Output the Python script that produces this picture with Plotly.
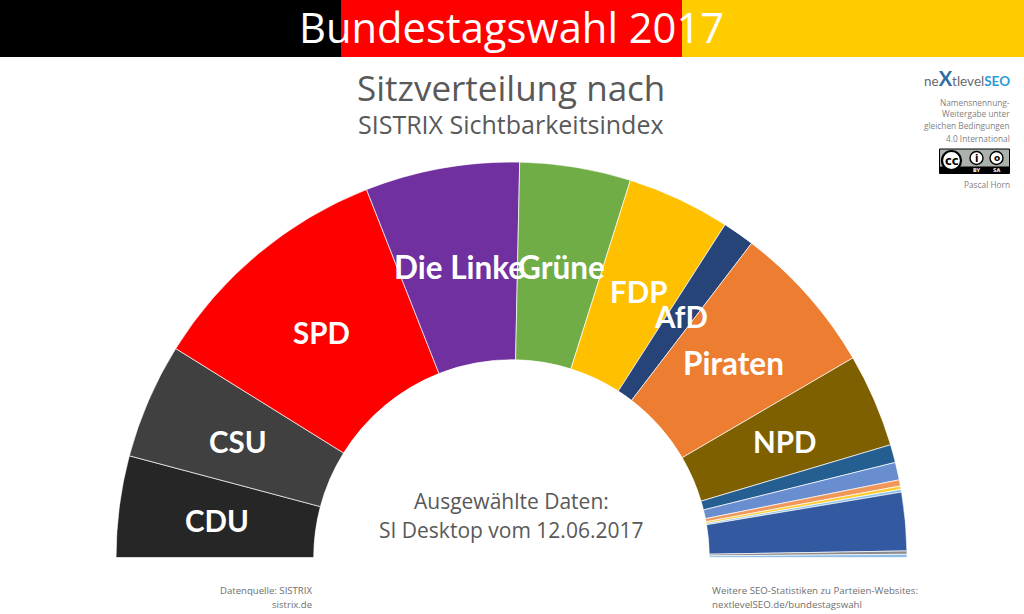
import numpy as np
import plotly.graph_objects as go

W, H = 1024, 614

parties = ["CDU", "CSU", "SPD", "Die Linke", "Grüne", "FDP", "AfD", "Piraten", "NPD",
           "Sonstige 1", "Sonstige 2", "Sonstige 3", "Sonstige 4", "Sonstige 5",
           "Sonstige 6", "Sonstige 7", "Sonstige 8"]
shares = [8.28, 9.44, 20.33, 12.61, 9.06, 8.44, 2.61, 12.39, 7.64,
          1.47, 1.44, 0.50, 0.28, 0.22, 4.76, 0.27, 0.26]
colors = ["#262626", "#404040", "#FF0000", "#7030A0", "#70AD47", "#FFC000", "#264478",
          "#ED7D31", "#7F6000", "#255E91", "#698ED0", "#F1975A", "#FFCD33", "#8CC1E8",
          "#335AA1", "#8C8C8C", "#8FBCE6"]

label_names = ["CDU", "CSU", "SPD", "Die Linke", "Grüne", "FDP", "AfD", "Piraten", "NPD"]
label_x = [217, 238, 321, 459, 561, 638, 681, 733, 784]
label_y = [520, 441, 332, 267, 267, 291, 316, 363, 441]

values = np.array(shares)
scale = 180.0 / values.sum()
widths = values * scale
centres = np.cumsum(widths) - widths / 2


def px(x):
    return x / W


def py(y):
    return 1 - y / H


fig = go.Figure()
fig.add_trace(go.Barpolar(
    r=[1] * len(parties), theta=centres, width=widths, base=0,
    marker=dict(color=colors, line=dict(color="rgba(255,255,255,0.85)", width=0.8)),
    text=parties, hoverinfo="text", showlegend=False,
))


def rect(x0, y0, x1, y1, fill, line=None, kind="rect", lw=1):
    return dict(type=kind, xref="paper", yref="paper", x0=px(x0), x1=px(x1), y0=py(y1), y1=py(y0),
                fillcolor=fill, line=dict(color=line or fill, width=lw if line else 0), layer="above")


shapes = [
    rect(0, 0, 341, 57, "#000000"),
    rect(341, 0, 682, 57, "#FF0000"),
    rect(682, 0, 1024, 57, "#FFCC00"),
    rect(939.5, 149, 1009.5, 173.5, "#AAB2AB", "#000000"),
    rect(940, 166.5, 1009, 173, "#000000"),
    rect(942, 151, 961, 170, "#FFFFFF", "#000000", "circle", 2.2),
    rect(970, 151.5, 983, 164.5, "#FFFFFF", "#000000", "circle", 1.4),
    rect(990, 151.5, 1003, 164.5, "#FFFFFF", "#000000", "circle", 1.4),
]

annotations = []


def txt(x, y, s, size, color="#595959", font="Open Sans", anchor="center"):
    annotations.append(dict(xref="paper", yref="paper", x=px(x), y=py(y), text=s, showarrow=False,
                            xanchor=anchor, yanchor="middle",
                            font=dict(family=font, size=size, color=color)))


txt(511, 26.5, "Bundestagswahl 2017", 41.7, "#FFFFFF")
txt(511, 87, "Sitzverteilung nach", 35)
txt(511, 124, "SISTRIX Sichtbarkeitsindex", 25)
txt(511, 501, "Ausgewählte Daten:", 21)
txt(511, 530, "SI Desktop vom 12.06.2017", 21)

for name, x, y in zip(label_names, label_x, label_y):
    size = 31.5 if name in ("Die Linke", "Grüne", "Piraten") else 29.5
    txt(x, y, f"<b>{name}</b>", size, "#FFFFFF", "Lato")

txt(313.5, 590, "Datenquelle: SISTRIX", 9.6, "#6F6F6F", anchor="right")
txt(313.5, 604, "sistrix.de", 9.6, "#6F6F6F", anchor="right")
txt(709.5, 590, "Weitere SEO-Statistiken zu Parteien-Websites:", 9.7, "#6F6F6F", anchor="left")
txt(709.5, 604, "nextlevelSEO.de/bundestagswahl", 9.7, "#6F6F6F", anchor="left")

txt(1011.5, 78,
    'ne<span style="font-size:20px;color:#2E6DA4"><b>X</b></span>tlevel'
    '<span style="color:#2E9BD6"><b>SEO</b></span>',
    13.5, "#6A6A6A", "Lato", "right")
txt(1011.5, 103, "Namensnennung-", 8.3, "#7F7F7F", anchor="right")
txt(1011.5, 114, "Weitergabe unter", 8.3, "#7F7F7F", anchor="right")
txt(1011.5, 126, "gleichen Bedingungen", 8.3, "#7F7F7F", anchor="right")
txt(1011.5, 138, "4.0 International", 8.3, "#7F7F7F", anchor="right")
txt(1011.5, 184, "Pascal Horn", 8.3, "#7F7F7F", anchor="right")
txt(951.5, 160.5, "<b>cc</b>", 11.5, "#000000", "DejaVu Sans")
txt(976.5, 158, "<b>i</b>", 10, "#000000", "DejaVu Sans")
txt(996.5, 158, "<b>o</b>", 9, "#000000", "DejaVu Sans")
txt(976.5, 170, "<b>BY</b>", 5, "#FFFFFF", "DejaVu Sans")
txt(996.5, 170, "<b>SA</b>", 5, "#FFFFFF", "DejaVu Sans")

fig.update_layout(
    width=W, height=H, autosize=False,
    margin=dict(l=0, r=0, t=0, b=0),
    paper_bgcolor="#FFFFFF",
    polar=dict(
        domain=dict(x=[px(116), px(907)], y=[py(557.5), py(162)]),
        sector=[0, 180], hole=0.5, bgcolor="rgba(0,0,0,0)", bargap=0,
        radialaxis=dict(visible=False, range=[0, 1]),
        angularaxis=dict(visible=False, direction="clockwise", rotation=180),
    ),
    shapes=shapes, annotations=annotations,
)
fig.write_html("out.html", config=dict(displayModeBar=False),
               post_script="document.body.style.margin='0';document.body.style.overflow='hidden';")
